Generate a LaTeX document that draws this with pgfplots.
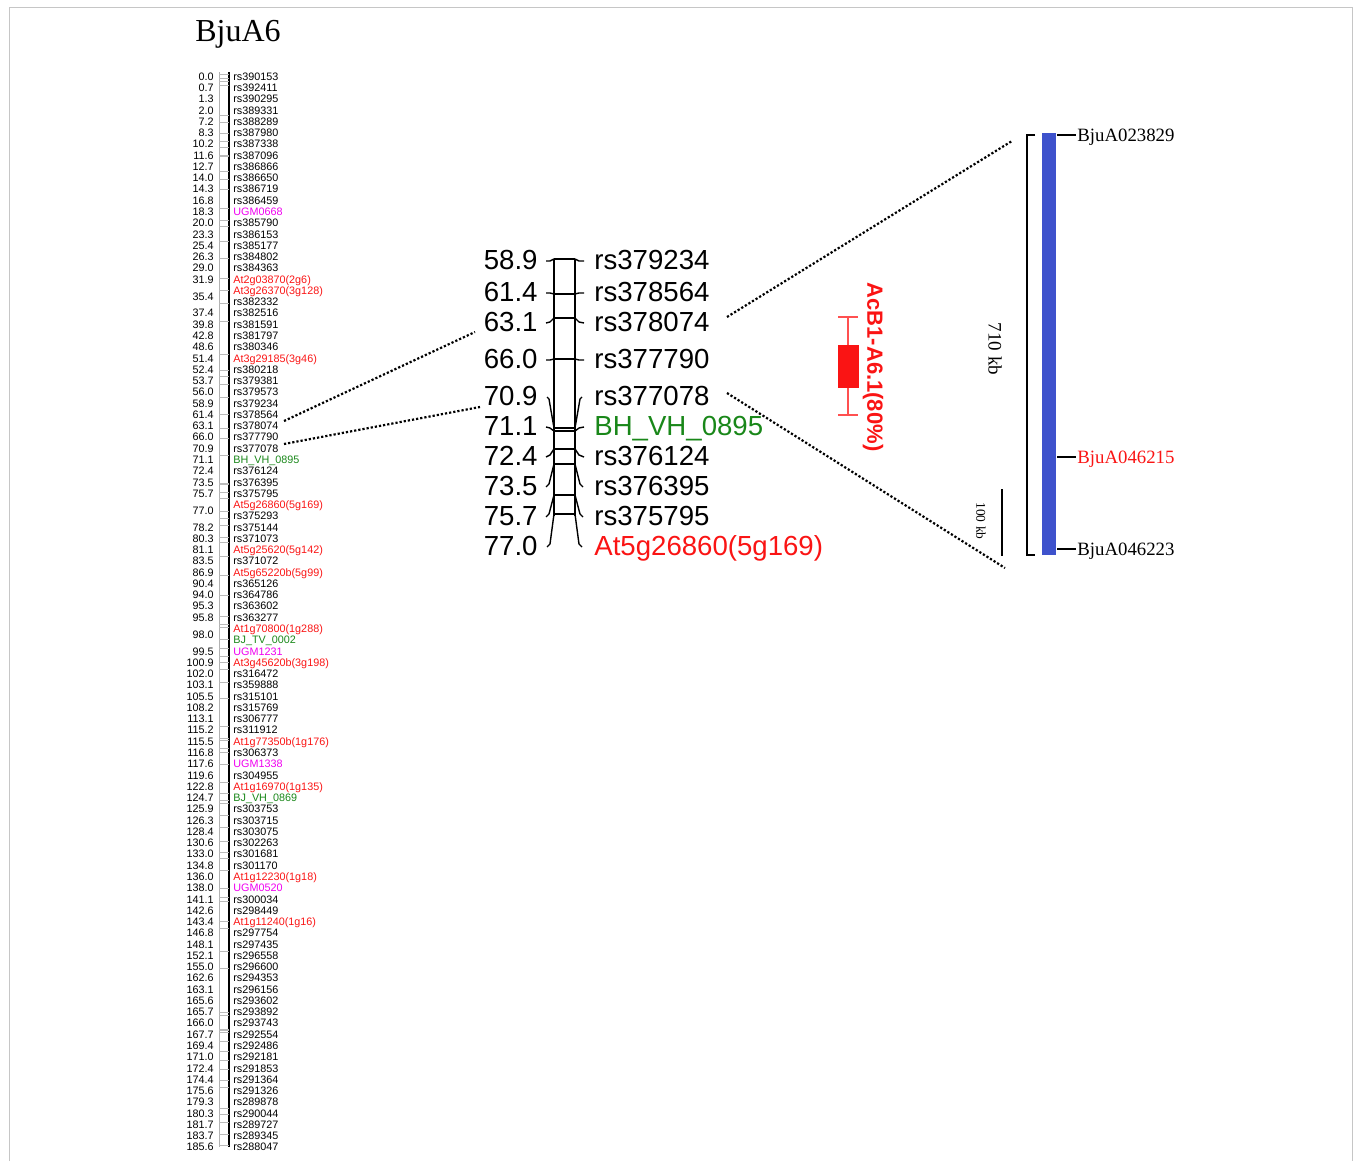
\documentclass[border=0pt]{standalone}
\usepackage{pgfplots}
\pgfplotsset{compat=1.18}
\usepackage{pgfplotstable}
\usepackage{fontspec}
\setmainfont{Liberation Sans}
\newfontfamily\serif{Liberation Serif}
\definecolor{mred}{RGB}{250,20,20}
\definecolor{mmag}{RGB}{240,0,240}
\definecolor{mgreen}{RGB}{25,135,25}
\definecolor{mblue}{RGB}{62,82,204}
\definecolor{wred}{RGB}{255,80,80}

% left map: row index r (label row) and cM position
\pgfplotstableread{
r cm
0 0.0
1 0.7
2 1.3
3 2.0
4 7.2
5 8.3
6 10.2
7 11.6
8 12.7
9 14.0
10 14.3
11 16.8
12 18.3
13 20.0
14 23.3
15 25.4
16 26.3
17 29.0
18 31.9
19.5 35.4
21 37.4
22 39.8
23 42.8
24 48.6
25 51.4
26 52.4
27 53.7
28 56.0
29 58.9
30 61.4
31 63.1
32 66.0
33 70.9
34 71.1
35 72.4
36 73.5
37 75.7
38.5 77.0
40 78.2
41 80.3
42 81.1
43 83.5
44 86.9
45 90.4
46 94.0
47 95.3
48 95.8
49.5 98.0
51 99.5
52 100.9
53 102.0
54 103.1
55 105.5
56 108.2
57 113.1
58 115.2
59 115.5
60 116.8
61 117.6
62 119.6
63 122.8
64 124.7
65 125.9
66 126.3
67 128.4
68 130.6
69 133.0
70 134.8
71 136.0
72 138.0
73 141.1
74 142.6
75 143.4
76 146.8
77 148.1
78 152.1
79 155.0
80 162.6
81 163.1
82 165.6
83 165.7
84 166.0
85 167.7
86 169.4
87 171.0
88 172.4
89 174.4
90 175.6
91 179.3
92 180.3
93 181.7
94 183.7
95 185.6
}\leftnums

\pgfplotstableread{
r name
0 rs390153
1 rs392411
2 rs390295
3 rs389331
4 rs388289
5 rs387980
6 rs387338
7 rs387096
8 rs386866
9 rs386650
10 rs386719
11 rs386459
13 rs385790
14 rs386153
15 rs385177
16 rs384802
17 rs384363
20 rs382332
21 rs382516
22 rs381591
23 rs381797
24 rs380346
26 rs380218
27 rs379381
28 rs379573
29 rs379234
30 rs378564
31 rs378074
32 rs377790
33 rs377078
35 rs376124
36 rs376395
37 rs375795
39 rs375293
40 rs375144
41 rs371073
43 rs371072
45 rs365126
46 rs364786
47 rs363602
48 rs363277
53 rs316472
54 rs359888
55 rs315101
56 rs315769
57 rs306777
58 rs311912
60 rs306373
62 rs304955
65 rs303753
66 rs303715
67 rs303075
68 rs302263
69 rs301681
70 rs301170
73 rs300034
74 rs298449
76 rs297754
77 rs297435
78 rs296558
79 rs296600
80 rs294353
81 rs296156
82 rs293602
83 rs293892
84 rs293743
85 rs292554
86 rs292486
87 rs292181
88 rs291853
89 rs291364
90 rs291326
91 rs289878
92 rs290044
93 rs289727
94 rs289345
95 rs288047
}\leftblack

\pgfplotstableread{
r name
18 At2g03870(2g6)
19 At3g26370(3g128)
25 At3g29185(3g46)
38 At5g26860(5g169)
42 At5g25620(5g142)
44 At5g65220b(5g99)
49 At1g70800(1g288)
52 At3g45620b(3g198)
59 At1g77350b(1g176)
63 At1g16970(1g135)
71 At1g12230(1g18)
75 At1g11240(1g16)
}\leftred

\pgfplotstableread{
r name
12 UGM0668
51 UGM1231
61 UGM1338
72 UGM0520
}\leftmag

\pgfplotstableread{
r name
34 BH\_VH\_0895
50 BJ\_TV\_0002
64 BJ\_VH\_0869
}\leftgreen

% enlarged segment: label y, actual y
\pgfplotstableread{
ly ay cm
261 259 58.9
293 294 61.4
323 318 63.1
360 359 66.0
397 428 70.9
427 431 71.1
457 449 72.4
487 464 73.5
517 495 75.7
547 514 77.0
}\midnums

\pgfplotstableread{
ly name
261 rs379234
293 rs378564
323 rs378074
360 rs377790
397 rs377078
457 rs376124
487 rs376395
517 rs375795
}\midblack

\begin{document}
\begin{tikzpicture}
\begin{axis}[scale only axis, width=678pt, height=580.5pt,
  xmin=0, xmax=1356, ymin=0, ymax=1161, y dir=reverse,
  hide axis, clip=false, unbounded coords=jump]

% full extent (bounding box) and frame
\addplot[draw=none, mark=none] coordinates {(0,0)(1356,1161)};
\addplot[gray!45, line width=0.5pt] coordinates {(9,1161)(9,7)(1352,7)(1352,1161)};

% title
\addplot[draw=none, mark=none, point meta=explicit symbolic, nodes near coords,
  every node near coord/.append style={anchor=mid west, inner sep=0pt, font=\serif\fontsize{16}{18}\selectfont}]
  coordinates {(195,36) [BjuA6]};

% ---------- left chromosome ----------
\addplot[gray!60, line width=0.5pt] coordinates {(219,72)(219,1147)};
\addplot[black, line width=1pt] coordinates {(229,72)(229,1147)};
\addplot[only marks, mark=-, mark size=2.5pt, mark options={line width=0.25pt, draw=gray!55}]
  table[x expr=224, y expr=74+5.77*\thisrow{cm}] {\leftnums};

\addplot[draw=none, mark=none, point meta=explicit symbolic, nodes near coords,
  every node near coord/.append style={anchor=mid east, inner sep=0pt, font=\fontsize{5.4}{6}\selectfont}]
  table[x expr=214, y expr=75+11.27*\thisrow{r}, meta=cm] {\leftnums};
\addplot[draw=none, mark=none, point meta=explicit symbolic, nodes near coords,
  every node near coord/.append style={anchor=mid west, inner sep=0pt, font=\fontsize{5.4}{6}\selectfont}]
  table[x expr=233, y expr=75+11.27*\thisrow{r}, meta=name] {\leftblack};
\addplot[draw=none, mark=none, point meta=explicit symbolic, nodes near coords,
  every node near coord/.append style={anchor=mid west, inner sep=0pt, text=mred, font=\fontsize{5.4}{6}\selectfont}]
  table[x expr=233, y expr=75+11.27*\thisrow{r}, meta=name] {\leftred};
\addplot[draw=none, mark=none, point meta=explicit symbolic, nodes near coords,
  every node near coord/.append style={anchor=mid west, inner sep=0pt, text=mmag, font=\fontsize{5.4}{6}\selectfont}]
  table[x expr=233, y expr=75+11.27*\thisrow{r}, meta=name] {\leftmag};
\addplot[draw=none, mark=none, point meta=explicit symbolic, nodes near coords,
  every node near coord/.append style={anchor=mid west, inner sep=0pt, text=mgreen, font=\fontsize{5.4}{6}\selectfont}]
  table[x expr=233, y expr=75+11.27*\thisrow{r}, meta=name] {\leftgreen};

% dotted zoom lines
\addplot[densely dotted, line width=1.1pt] coordinates {(284,421)(475,332)};
\addplot[densely dotted, line width=1.1pt] coordinates {(284,444)(480,407)};
\addplot[densely dotted, line width=1.1pt] coordinates {(727,317)(1012,141)};
\addplot[densely dotted, line width=1.1pt] coordinates {(727,393)(1005,568)};

% ---------- middle segment ----------
\addplot[black, line width=0.75pt] coordinates {(554,259)(554,516)};
\addplot[black, line width=0.75pt] coordinates {(575,259)(575,516)};
\addplot[only marks, mark=-, mark size=5.25pt, mark options={line width=0.8pt}]
  table[x expr=564.5, y=ay] {\midnums};
\addplot[black, line width=0.7pt] coordinates {
 (546,261)(550,261)(554,259) (nan,nan) (575,259)(579,261)(584,261) (nan,nan)
 (546,293)(550,293)(554,294) (nan,nan) (575,294)(579,293)(584,293) (nan,nan)
 (546,323)(550,322)(554,318) (nan,nan) (575,318)(579,322)(584,323) (nan,nan)
 (546,360)(550,360)(554,359) (nan,nan) (575,359)(579,360)(584,360) (nan,nan)
 (547,397)(549,399)(554,428) (nan,nan) (575,428)(580,399)(582,397) (nan,nan)
 (546,427)(550,428)(554,431) (nan,nan) (575,431)(579,428)(584,427) (nan,nan)
 (546,457)(550,455)(554,449) (nan,nan) (575,449)(579,455)(584,457) (nan,nan)
 (546,487)(549,484)(554,464) (nan,nan) (575,464)(580,484)(583,487) (nan,nan)
 (546,517)(549,514)(554,495) (nan,nan) (575,495)(580,514)(583,517) (nan,nan)
 (547,547)(550,544)(554,514) (nan,nan) (575,514)(579,544)(582,547)
};

\addplot[draw=none, mark=none, point meta=explicit symbolic, nodes near coords,
  every node near coord/.append style={anchor=mid east, inner sep=0pt, font=\fontsize{13.8}{16}\selectfont}]
  table[x expr=538, y expr=\thisrow{ly}+3, meta=cm] {\midnums};
\addplot[draw=none, mark=none, point meta=explicit symbolic, nodes near coords,
  every node near coord/.append style={anchor=mid west, inner sep=0pt, font=\fontsize{13.8}{16}\selectfont}]
  table[x expr=594, y expr=\thisrow{ly}+3, meta=name] {\midblack};
\addplot[draw=none, mark=none, point meta=explicit symbolic, nodes near coords,
  every node near coord/.append style={anchor=mid west, inner sep=0pt, text=mgreen, font=\fontsize{13.8}{16}\selectfont}]
  coordinates {(594,430) [BH\_VH\_0895]};
\addplot[draw=none, mark=none, point meta=explicit symbolic, nodes near coords,
  every node near coord/.append style={anchor=mid west, inner sep=0pt, text=mred, font=\fontsize{13.8}{16}\selectfont}]
  coordinates {(594,550) [At5g26860(5g169)]};

% ---------- QTL ----------
\addplot[wred, line width=0.6pt] coordinates {(838,317)(858,317) (nan,nan) (848,317)(848,415) (nan,nan) (838,415)(858,415)};
\addplot[fill=mred, draw=mred, line width=0.4pt] coordinates {(838,345)(858,345)(858,387)(838,387)} -- cycle;
\addplot[draw=none, mark=none, point meta=explicit symbolic, nodes near coords,
  every node near coord/.append style={anchor=center, rotate=-90, inner sep=0pt, text=mred, font=\bfseries\fontsize{11}{13}\selectfont}]
  coordinates {(873,367) [AcB1-A6.1(80\%)]};

% ---------- physical region ----------
\addplot[fill=mblue, draw=none] coordinates {(1042,133)(1056,133)(1056,555)(1042,555)} -- cycle;
\addplot[black, line width=1pt] coordinates {(1035,135)(1027,135)(1027,555)(1035,555)};
\addplot[black, line width=1pt] coordinates {(1057,135)(1076,135) (nan,nan) (1057,457)(1076,457) (nan,nan) (1057,549)(1076,549)};
\addplot[black, line width=0.9pt] coordinates {(1002,489)(1002,556)};

\addplot[draw=none, mark=none, point meta=explicit symbolic, nodes near coords,
  every node near coord/.append style={anchor=mid west, inner sep=0pt, font=\serif\fontsize{9.4}{11}\selectfont}]
  coordinates {(1077,136) [BjuA023829] (1077,550) [BjuA046223]};
\addplot[draw=none, mark=none, point meta=explicit symbolic, nodes near coords,
  every node near coord/.append style={anchor=mid west, inner sep=0pt, text=mred, font=\serif\fontsize{9.4}{11}\selectfont}]
  coordinates {(1077,458) [BjuA046215]};
\addplot[draw=none, mark=none, point meta=explicit symbolic, nodes near coords,
  every node near coord/.append style={anchor=center, rotate=-90, inner sep=0pt, font=\serif\fontsize{9.5}{11}\selectfont}]
  coordinates {(995,349) [710 kb]};
\addplot[draw=none, mark=none, point meta=explicit symbolic, nodes near coords,
  every node near coord/.append style={anchor=center, rotate=-90, inner sep=0pt, font=\serif\fontsize{6.7}{8}\selectfont}]
  coordinates {(981,521) [100 kb]};

\end{axis}
\end{tikzpicture}
\end{document}
